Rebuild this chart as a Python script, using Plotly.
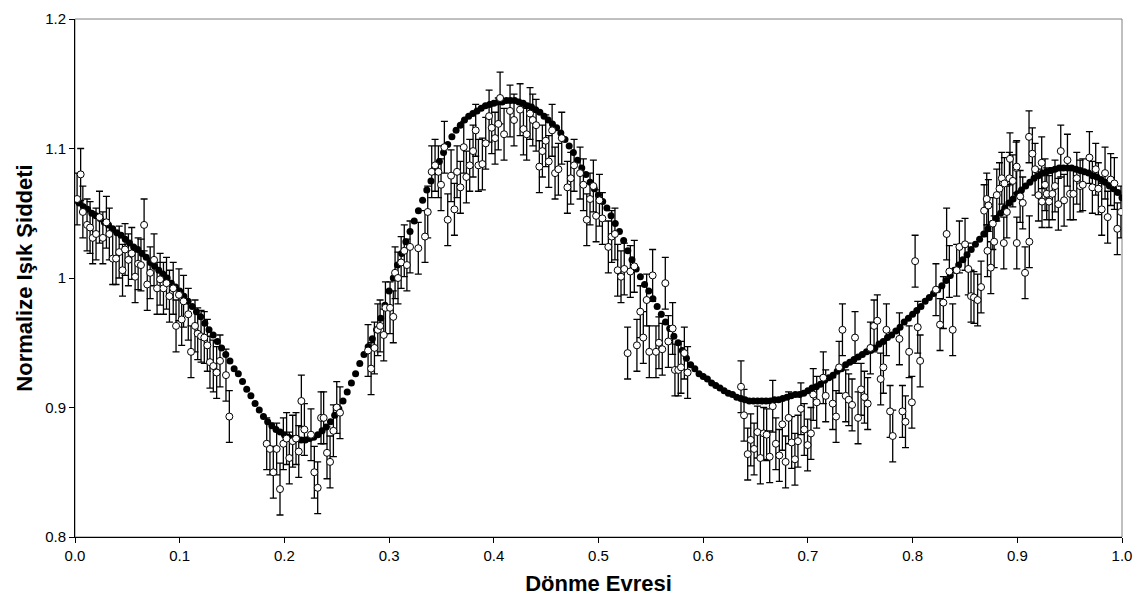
import plotly.graph_objects as go

# Observed light curve (phase, normalized intensity)
phase = [
    0.002, 0.0054, 0.0075, 0.0115, 0.0144, 0.0169, 0.0201, 0.0234, 0.0266, 0.0300,
    0.0328, 0.0360, 0.0392, 0.0422, 0.0454, 0.0478, 0.0510, 0.0542, 0.0574, 0.0603,
    0.0630, 0.0660, 0.0690, 0.0718, 0.0755, 0.0784, 0.0813, 0.0845, 0.0874, 0.0902,
    0.0938, 0.0965, 0.0993, 0.1019, 0.1037, 0.1082, 0.1108, 0.1146, 0.1172, 0.1204,
    0.1235, 0.1264, 0.1289, 0.1321, 0.1353, 0.1385, 0.1442, 0.1474,
    0.1831, 0.1862, 0.1894, 0.1926, 0.1958, 0.1990, 0.2021, 0.2047, 0.2079, 0.2111,
    0.2137, 0.2162, 0.2191, 0.2254, 0.2286, 0.2318, 0.2350, 0.2375, 0.2407, 0.2436,
    0.2468, 0.2500, 0.2531,
    0.2799, 0.2828, 0.2860, 0.2892, 0.2914, 0.2949, 0.2965, 0.3009, 0.3040, 0.3057,
    0.3085, 0.3115, 0.3145, 0.3170, 0.3200, 0.3279, 0.3343, 0.3369, 0.3407, 0.3439,
    0.3471, 0.3496, 0.3528, 0.3560, 0.3592, 0.3624, 0.3649, 0.3681, 0.3713, 0.3738,
    0.3770, 0.3802, 0.3827, 0.3853, 0.3891, 0.3923, 0.3955, 0.3980, 0.4012, 0.4043,
    0.4060, 0.4098, 0.4155, 0.4193, 0.4251, 0.4283, 0.4314, 0.4346, 0.4372, 0.4404,
    0.4435, 0.4464, 0.4496, 0.4525, 0.4557, 0.4585, 0.4617, 0.4649, 0.4703, 0.4735,
    0.4767, 0.4824, 0.4856, 0.4888, 0.4919, 0.4951, 0.4977, 0.5009, 0.5037, 0.5094,
    0.5126, 0.5157, 0.5183, 0.5215, 0.5246, 0.5278, 0.5304, 0.5342, 0.5367, 0.5399,
    0.5428, 0.5460, 0.5485, 0.5517, 0.5549, 0.5577, 0.5609, 0.5638, 0.5667, 0.5708,
    0.5730, 0.5762, 0.5788, 0.5820, 0.5851,
    0.6361, 0.6390, 0.6425, 0.6454, 0.6486, 0.6518, 0.6546, 0.6578, 0.6606, 0.6635,
    0.6664, 0.6694, 0.6727, 0.6756, 0.6787, 0.6816, 0.6845, 0.6876, 0.6905, 0.6933,
    0.6965, 0.6997, 0.7029, 0.7051, 0.7084, 0.7147, 0.7170, 0.7237, 0.7269, 0.7298,
    0.7330, 0.7361, 0.7390, 0.7422, 0.7450, 0.7479, 0.7508, 0.7540, 0.7571, 0.7597,
    0.7632, 0.7663, 0.7695, 0.7721, 0.7750, 0.7785, 0.7810, 0.7874, 0.7903, 0.7932,
    0.7967, 0.7993, 0.8024, 0.8049, 0.8072, 0.8223, 0.8262, 0.8294, 0.8325, 0.8351,
    0.8383, 0.8421, 0.8447, 0.8501, 0.8532, 0.8558, 0.8586, 0.8621, 0.8654, 0.8683,
    0.8708, 0.8715, 0.8724, 0.8747, 0.8766, 0.8779, 0.8804, 0.8830, 0.8852, 0.8871,
    0.8877, 0.8900, 0.8930, 0.8925, 0.8957, 0.8989, 0.8994, 0.8995, 0.9027, 0.9052,
    0.9074, 0.9112, 0.9115, 0.9144, 0.9170, 0.9202, 0.9233, 0.9236, 0.9265, 0.9281,
    0.9303, 0.9335, 0.9360, 0.9392, 0.9415, 0.9447, 0.9479, 0.9504, 0.9536, 0.9568,
    0.9600, 0.9625, 0.9689, 0.9717, 0.9749, 0.9774, 0.9806, 0.9838, 0.9863, 0.9892,
    0.9927, 0.9955, 0.9990,
]
intensity = [
    1.061, 1.080, 1.051, 1.041, 1.039, 1.031, 1.034, 1.047, 1.031, 1.043,
    1.034, 1.015, 1.015, 1.020, 1.006, 1.022, 1.014, 1.019, 1.001, 1.011,
    1.010, 1.041, 0.995, 1.004, 1.014, 0.992, 0.999, 0.992, 0.996, 0.986,
    0.992, 0.963, 0.987, 0.968, 0.982, 0.972, 0.943, 0.963, 0.957, 0.955,
    0.954, 0.948, 0.935, 0.932, 0.927, 0.936, 0.925, 0.893,
    0.872, 0.868, 0.850, 0.868, 0.837, 0.872, 0.876, 0.861, 0.874, 0.876,
    0.866, 0.905, 0.883, 0.879, 0.850, 0.838, 0.892, 0.892, 0.865, 0.858,
    0.882, 0.900, 0.896,
    0.944, 0.930, 0.946, 0.960, 0.963, 0.956, 0.977, 0.977, 0.970, 1.004,
    1.000, 1.012, 1.021, 1.010, 1.024, 1.023, 1.032, 1.051, 1.082, 1.087,
    1.082, 1.072, 1.101, 1.045, 1.079, 1.053, 1.082, 1.070, 1.101, 1.078,
    1.087, 1.098, 1.114, 1.087, 1.088, 1.104, 1.125, 1.116, 1.108, 1.119,
    1.139, 1.111, 1.129, 1.122, 1.130, 1.115, 1.111, 1.127, 1.122, 1.118,
    1.086, 1.098, 1.106, 1.090, 1.114, 1.081, 1.084, 1.108, 1.070, 1.077,
    1.087, 1.081, 1.072, 1.045, 1.061, 1.071, 1.048, 1.060, 1.046, 1.024,
    1.032, 1.034, 1.006, 1.001, 1.007, 0.942, 1.005, 1.009, 0.948, 0.974,
    0.954, 0.983, 0.943, 1.002, 0.943, 0.950, 0.945, 0.996, 0.951, 0.961,
    0.929, 0.929, 0.931, 0.942, 0.927,
    0.916, 0.894, 0.864, 0.875, 0.868, 0.881, 0.861, 0.880, 0.879, 0.862,
    0.901, 0.872, 0.863, 0.887, 0.858, 0.892, 0.873, 0.860, 0.874, 0.899,
    0.883, 0.871, 0.880, 0.910, 0.904, 0.923, 0.909, 0.903, 0.893, 0.931,
    0.960, 0.909, 0.906, 0.902, 0.954, 0.892, 0.914, 0.908, 0.903, 0.946,
    0.963, 0.967, 0.922, 0.931, 0.960, 0.897, 0.878, 0.953, 0.897, 0.889,
    0.943, 0.904, 1.013, 0.962, 0.936, 0.991, 0.964, 0.981, 1.034, 1.005,
    0.960, 1.006, 1.024, 1.026, 1.007, 0.986, 0.985, 0.983, 0.993, 1.052,
    1.061, 1.021, 1.056, 1.008, 1.042, 1.028, 1.064, 1.069, 1.077, 1.027,
    1.073, 1.051, 1.092, 1.077, 1.075, 1.085, 1.086, 1.027, 1.063, 1.058,
    1.004, 1.109, 1.028, 1.096, 1.084, 1.064, 1.089, 1.059, 1.072, 1.065,
    1.059, 1.065, 1.071, 1.057, 1.098, 1.060, 1.091, 1.065, 1.065, 1.077,
    1.071, 1.072, 1.093, 1.070, 1.084, 1.069, 1.053, 1.081, 1.047, 1.076,
    1.073, 1.038, 1.051,
]
error = 0.02

# Model light curve, sampled every 0.004 in phase
model_phase = [i * 0.004 for i in range(251)]
model_intensity = [
    1.060, 1.058, 1.055, 1.053, 1.050, 1.048, 1.046, 1.043, 1.041, 1.038,
    1.035, 1.033, 1.030, 1.027, 1.024, 1.022, 1.019, 1.016, 1.012, 1.009,
    1.006, 1.003, 1.000, 0.996, 0.993, 0.990, 0.986, 0.982, 0.978, 0.974,
    0.970, 0.965, 0.960, 0.956, 0.951, 0.946, 0.941, 0.936, 0.930, 0.926,
    0.920, 0.914, 0.909, 0.903, 0.898, 0.893, 0.889, 0.886, 0.883, 0.881,
    0.879, 0.877, 0.876, 0.876, 0.875, 0.875, 0.876, 0.877, 0.879, 0.882,
    0.885, 0.889, 0.894, 0.899, 0.905, 0.912, 0.919, 0.926, 0.934, 0.941,
    0.947, 0.953, 0.960, 0.969, 0.979, 0.990, 1.000, 1.010, 1.019, 1.028,
    1.036, 1.044, 1.052, 1.060, 1.068, 1.075, 1.082, 1.090, 1.097, 1.103,
    1.109, 1.114, 1.118, 1.122, 1.125, 1.127, 1.129, 1.131, 1.133, 1.134,
    1.135, 1.136, 1.136, 1.137, 1.137, 1.137, 1.136, 1.135, 1.133, 1.132,
    1.130, 1.128, 1.125, 1.122, 1.119, 1.116, 1.112, 1.107, 1.102, 1.097,
    1.091, 1.085, 1.080, 1.074, 1.069, 1.064, 1.059, 1.054, 1.048, 1.042,
    1.036, 1.029, 1.021, 1.014, 1.007, 1.001, 0.995, 0.990, 0.984, 0.978,
    0.972, 0.966, 0.961, 0.955, 0.950, 0.944, 0.938, 0.933, 0.930, 0.926,
    0.924, 0.922, 0.919, 0.917, 0.915, 0.913, 0.911, 0.910, 0.908, 0.907,
    0.906, 0.905, 0.905, 0.905, 0.905, 0.905, 0.905, 0.906, 0.906, 0.907,
    0.908, 0.909, 0.910, 0.910, 0.911, 0.913, 0.915, 0.916, 0.918, 0.921,
    0.923, 0.925, 0.928, 0.930, 0.933, 0.935, 0.937, 0.939, 0.941, 0.943,
    0.944, 0.946, 0.949, 0.951, 0.954, 0.956, 0.959, 0.962, 0.966, 0.969,
    0.972, 0.975, 0.978, 0.982, 0.985, 0.988, 0.991, 0.994, 0.998, 1.002,
    1.006, 1.010, 1.014, 1.018, 1.022, 1.026, 1.030, 1.034, 1.038, 1.042,
    1.046, 1.050, 1.054, 1.058, 1.061, 1.065, 1.068, 1.071, 1.074, 1.077,
    1.079, 1.081, 1.082, 1.083, 1.084, 1.085, 1.085, 1.085, 1.085, 1.084,
    1.083, 1.082, 1.081, 1.079, 1.078, 1.076, 1.074, 1.071, 1.069, 1.066,
    1.062,
]

x_ticks = [0.0, 0.1, 0.2, 0.3, 0.4, 0.5, 0.6, 0.7, 0.8, 0.9, 1.0]
x_ticklabels = ["0.0", "0.1", "0.2", "0.3", "0.4", "0.5", "0.6", "0.7", "0.8", "0.9", "1.0"]
y_ticks = [0.8, 0.9, 1.0, 1.1, 1.2]
y_ticklabels = ["0.8", "0.9", "1", "1.1", "1.2"]

FONT = "Arial, 'Liberation Sans', sans-serif"

fig = go.Figure()

fig.add_trace(go.Scatter(
    x=model_phase, y=model_intensity, mode="markers",
    marker=dict(size=7, color="black", line=dict(width=0)),
    hoverinfo="skip", showlegend=False,
))

fig.add_trace(go.Scatter(
    x=phase, y=intensity, mode="markers",
    marker=dict(size=7, color="white", line=dict(color="black", width=1)),
    error_y=dict(type="constant", value=error, color="black", thickness=1.3, width=3.5),
    showlegend=False,
))

fig.add_shape(type="rect", xref="paper", yref="paper", x0=0, y0=0, x1=1, y1=1,
              line=dict(color="#808080", width=1), layer="below")

fig.update_layout(
    width=1146, height=610,
    margin=dict(l=75, r=24, t=10, b=73),
    paper_bgcolor="white", plot_bgcolor="white",
    font=dict(family=FONT, size=15, color="black"),
    xaxis=dict(
        range=[0, 1], tickvals=x_ticks, ticktext=x_ticklabels,
        ticks="outside", ticklen=5, tickcolor="black",
        showline=True, linecolor="black", linewidth=1,
        showgrid=False, zeroline=False,
        title=dict(text="<b>Dönme Evresi</b>", font=dict(size=22, family=FONT), standoff=12),
    ),
    yaxis=dict(
        range=[0.8, 1.2], tickvals=y_ticks, ticktext=y_ticklabels,
        ticks="outside", ticklen=5, tickcolor="black",
        showline=True, linecolor="black", linewidth=1,
        showgrid=False, zeroline=False, ticklabeloverflow="allow",
        title=dict(text="<b>Normalize Işık Şiddeti</b>", font=dict(size=22, family=FONT), standoff=6),
    ),
)

fig.write_html("out.html", config={"displayModeBar": False},
               post_script="document.body.style.margin='0';")
